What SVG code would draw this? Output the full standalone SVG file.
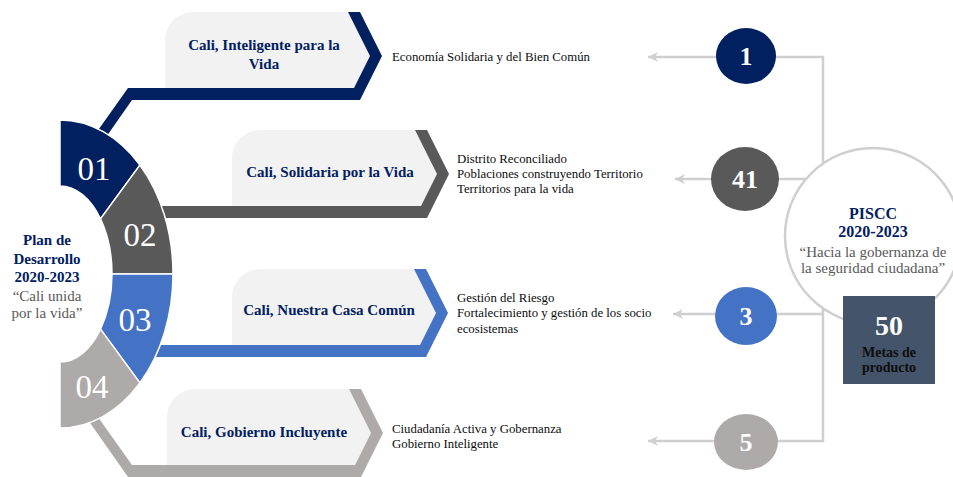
<svg xmlns="http://www.w3.org/2000/svg" width="953" height="477" viewBox="0 0 953 477">
<style>
.title{font-family:"Liberation Serif","Times New Roman",serif;font-weight:bold;font-size:15px;fill:#002060;text-anchor:middle}
.quote{font-family:"Liberation Serif","Times New Roman",serif;font-size:15px;fill:#595959;text-anchor:middle}
.desc{font-family:"Liberation Serif","Times New Roman",serif;font-size:12.8px;fill:#0d0d0d}
.num{font-family:"Liberation Serif","Times New Roman",serif;font-size:33px;fill:#ffffff;text-anchor:middle}
.cnum{font-family:"Liberation Serif","Times New Roman",serif;font-weight:bold;font-size:26px;fill:#ffffff;text-anchor:middle}
.box{fill:#f2f2f2}
.seg{stroke:#ffffff;stroke-width:1.5}
.conn{fill:none;stroke:#d0cece;stroke-width:2.5}
</style>
<defs>
<marker id="arr" markerUnits="userSpaceOnUse" markerWidth="12" markerHeight="10" refX="10" refY="5" orient="auto">
<path d="M0,0 L10,5 L0,10 L3,5 Z" fill="#d0cece"/>
</marker>
</defs>

<g id="connectors">
<path class="conn" d="M746,57 H648" marker-end="url(#arr)"/>
<path class="conn" d="M746,179 H675" marker-end="url(#arr)"/>
<path class="conn" d="M746,314 H673" marker-end="url(#arr)"/>
<path class="conn" d="M746,441 H648" marker-end="url(#arr)"/>
<path class="conn" d="M746,57 H823 V441 H746"/>
<path class="conn" d="M746,179 H820"/>
<path class="conn" d="M746,314 H823"/>
</g>

<g id="item1">
<path class="box" d="M165,88 V40 A28,28 0 0 1 193,12 H348 L370,56 L354,88 Z"/>
<path fill="#002060" d="M348,12 H360 L382,56 L360,100 H132 L97,150 L84,150 L128,88 H354 L370,56 Z"/>
<text class="title" x="264" y="50">Cali, Inteligente para la</text>
<text class="title" x="264" y="69">Vida</text>
<text class="desc" x="392" y="61">Economía Solidaria y del Bien Común</text>
</g>

<g id="item2">
<path class="box" d="M232,206 V158 A28,28 0 0 1 260,130 H415 L437,174 L421,206 Z"/>
<path fill="#595959" d="M415,130 H427 L449,174 L427,218 H130 V206 H421 L437,174 Z"/>
<text class="title" x="330" y="177">Cali, Solidaria por la Vida</text>
<text class="desc" x="457" y="163">Distrito Reconciliado</text>
<text class="desc" x="457" y="178">Poblaciones construyendo Territorio</text>
<text class="desc" x="457" y="193">Territorios para la vida</text>
</g>

<g id="item3">
<path class="box" d="M232,345 V297 A28,28 0 0 1 260,269 H414 L436,313 L420,345 Z"/>
<path fill="#4472c4" d="M414,269 H426 L448,313 L426,357 H130 V345 H420 L436,313 Z"/>
<text class="title" x="329" y="315">Cali, Nuestra Casa Común</text>
<text class="desc" x="457" y="302">Gestión del Riesgo</text>
<text class="desc" x="457" y="317">Fortalecimiento y gestión de los socio</text>
<text class="desc" x="457" y="333">ecosistemas</text>
</g>

<g id="item4">
<path class="box" d="M167,465 V417 A28,28 0 0 1 195,389 H349 L371,433 L355,465 Z"/>
<path fill="#aeaaaa" d="M349,389 H361 L383,433 L361,477 H128 L81,410 L93,410 L132,465 H355 L371,433 Z"/>
<text class="title" x="264" y="437">Cali, Gobierno Incluyente</text>
<text class="desc" x="392" y="433">Ciudadanía Activa y Gobernanza</text>
<text class="desc" x="392" y="448">Gobierno Inteligente</text>
</g>

<g id="ring">
<path class="seg" fill="#002060" d="M60,120 A113,154 0 0 1 139.9,165.1 L100.5,218.9 A52,88 0 0 0 60,186 Z"/>
<path class="seg" fill="#595959" d="M139.9,165.1 A113,154 0 0 1 173,274 L112,274 A52,88 0 0 0 100.5,218.9 Z"/>
<path class="seg" fill="#4472c4" d="M173,274 A113,154 0 0 1 139.9,382.9 L100.5,329.1 A52,88 0 0 0 112,274 Z"/>
<path class="seg" fill="#aeaaaa" d="M139.9,382.9 A113,154 0 0 1 60,428 L60,362 A52,88 0 0 0 100.5,329.1 Z"/>
<text class="num" x="94" y="180">01</text>
<text class="num" x="140" y="246">02</text>
<text class="num" x="135" y="331">03</text>
<text class="num" x="92" y="398">04</text>
</g>

<g id="plan">
<text class="title" x="47" y="245">Plan de</text>
<text class="title" x="47" y="264">Desarrollo</text>
<text class="title" x="47" y="282">2020-2023</text>
<text class="quote" x="47" y="301">“Cali unida</text>
<text class="quote" x="47" y="318">por la vida”</text>
</g>

<g id="c1">
<ellipse cx="746" cy="56" rx="30" ry="28" fill="#002060"/>
<text class="cnum" x="746" y="65">1</text>
</g>
<g id="c41">
<ellipse cx="745" cy="179" rx="34" ry="32" fill="#595959"/>
<text class="cnum" x="745" y="188">41</text>
</g>
<g id="c3">
<ellipse cx="746" cy="316" rx="31" ry="29" fill="#4472c4"/>
<text class="cnum" x="746" y="325">3</text>
</g>
<g id="c5">
<ellipse cx="746" cy="442" rx="32" ry="28" fill="#aeaaaa"/>
<text class="cnum" x="746" y="451">5</text>
</g>

<g id="piscc">
<circle cx="873" cy="236" r="88" fill="#ffffff" stroke="#d0cece" stroke-width="2.5"/>
<text class="title" style="font-size:16px" x="873" y="219">PISCC</text>
<text class="title" style="font-size:16px" x="873" y="237">2020-2023</text>
<text class="quote" x="873" y="257">“Hacia la gobernanza de</text>
<text class="quote" x="873" y="273">la seguridad ciudadana”</text>
</g>

<g id="metas">
<rect x="843" y="296" width="92" height="88" fill="#44546a"/>
<text class="cnum" style="font-size:28px" x="889" y="335">50</text>
<text class="title" style="fill:#0d0d0d;font-size:14px" x="889" y="357">Metas de</text>
<text class="title" style="fill:#0d0d0d;font-size:14px" x="889" y="372">producto</text>
</g>
</svg>
